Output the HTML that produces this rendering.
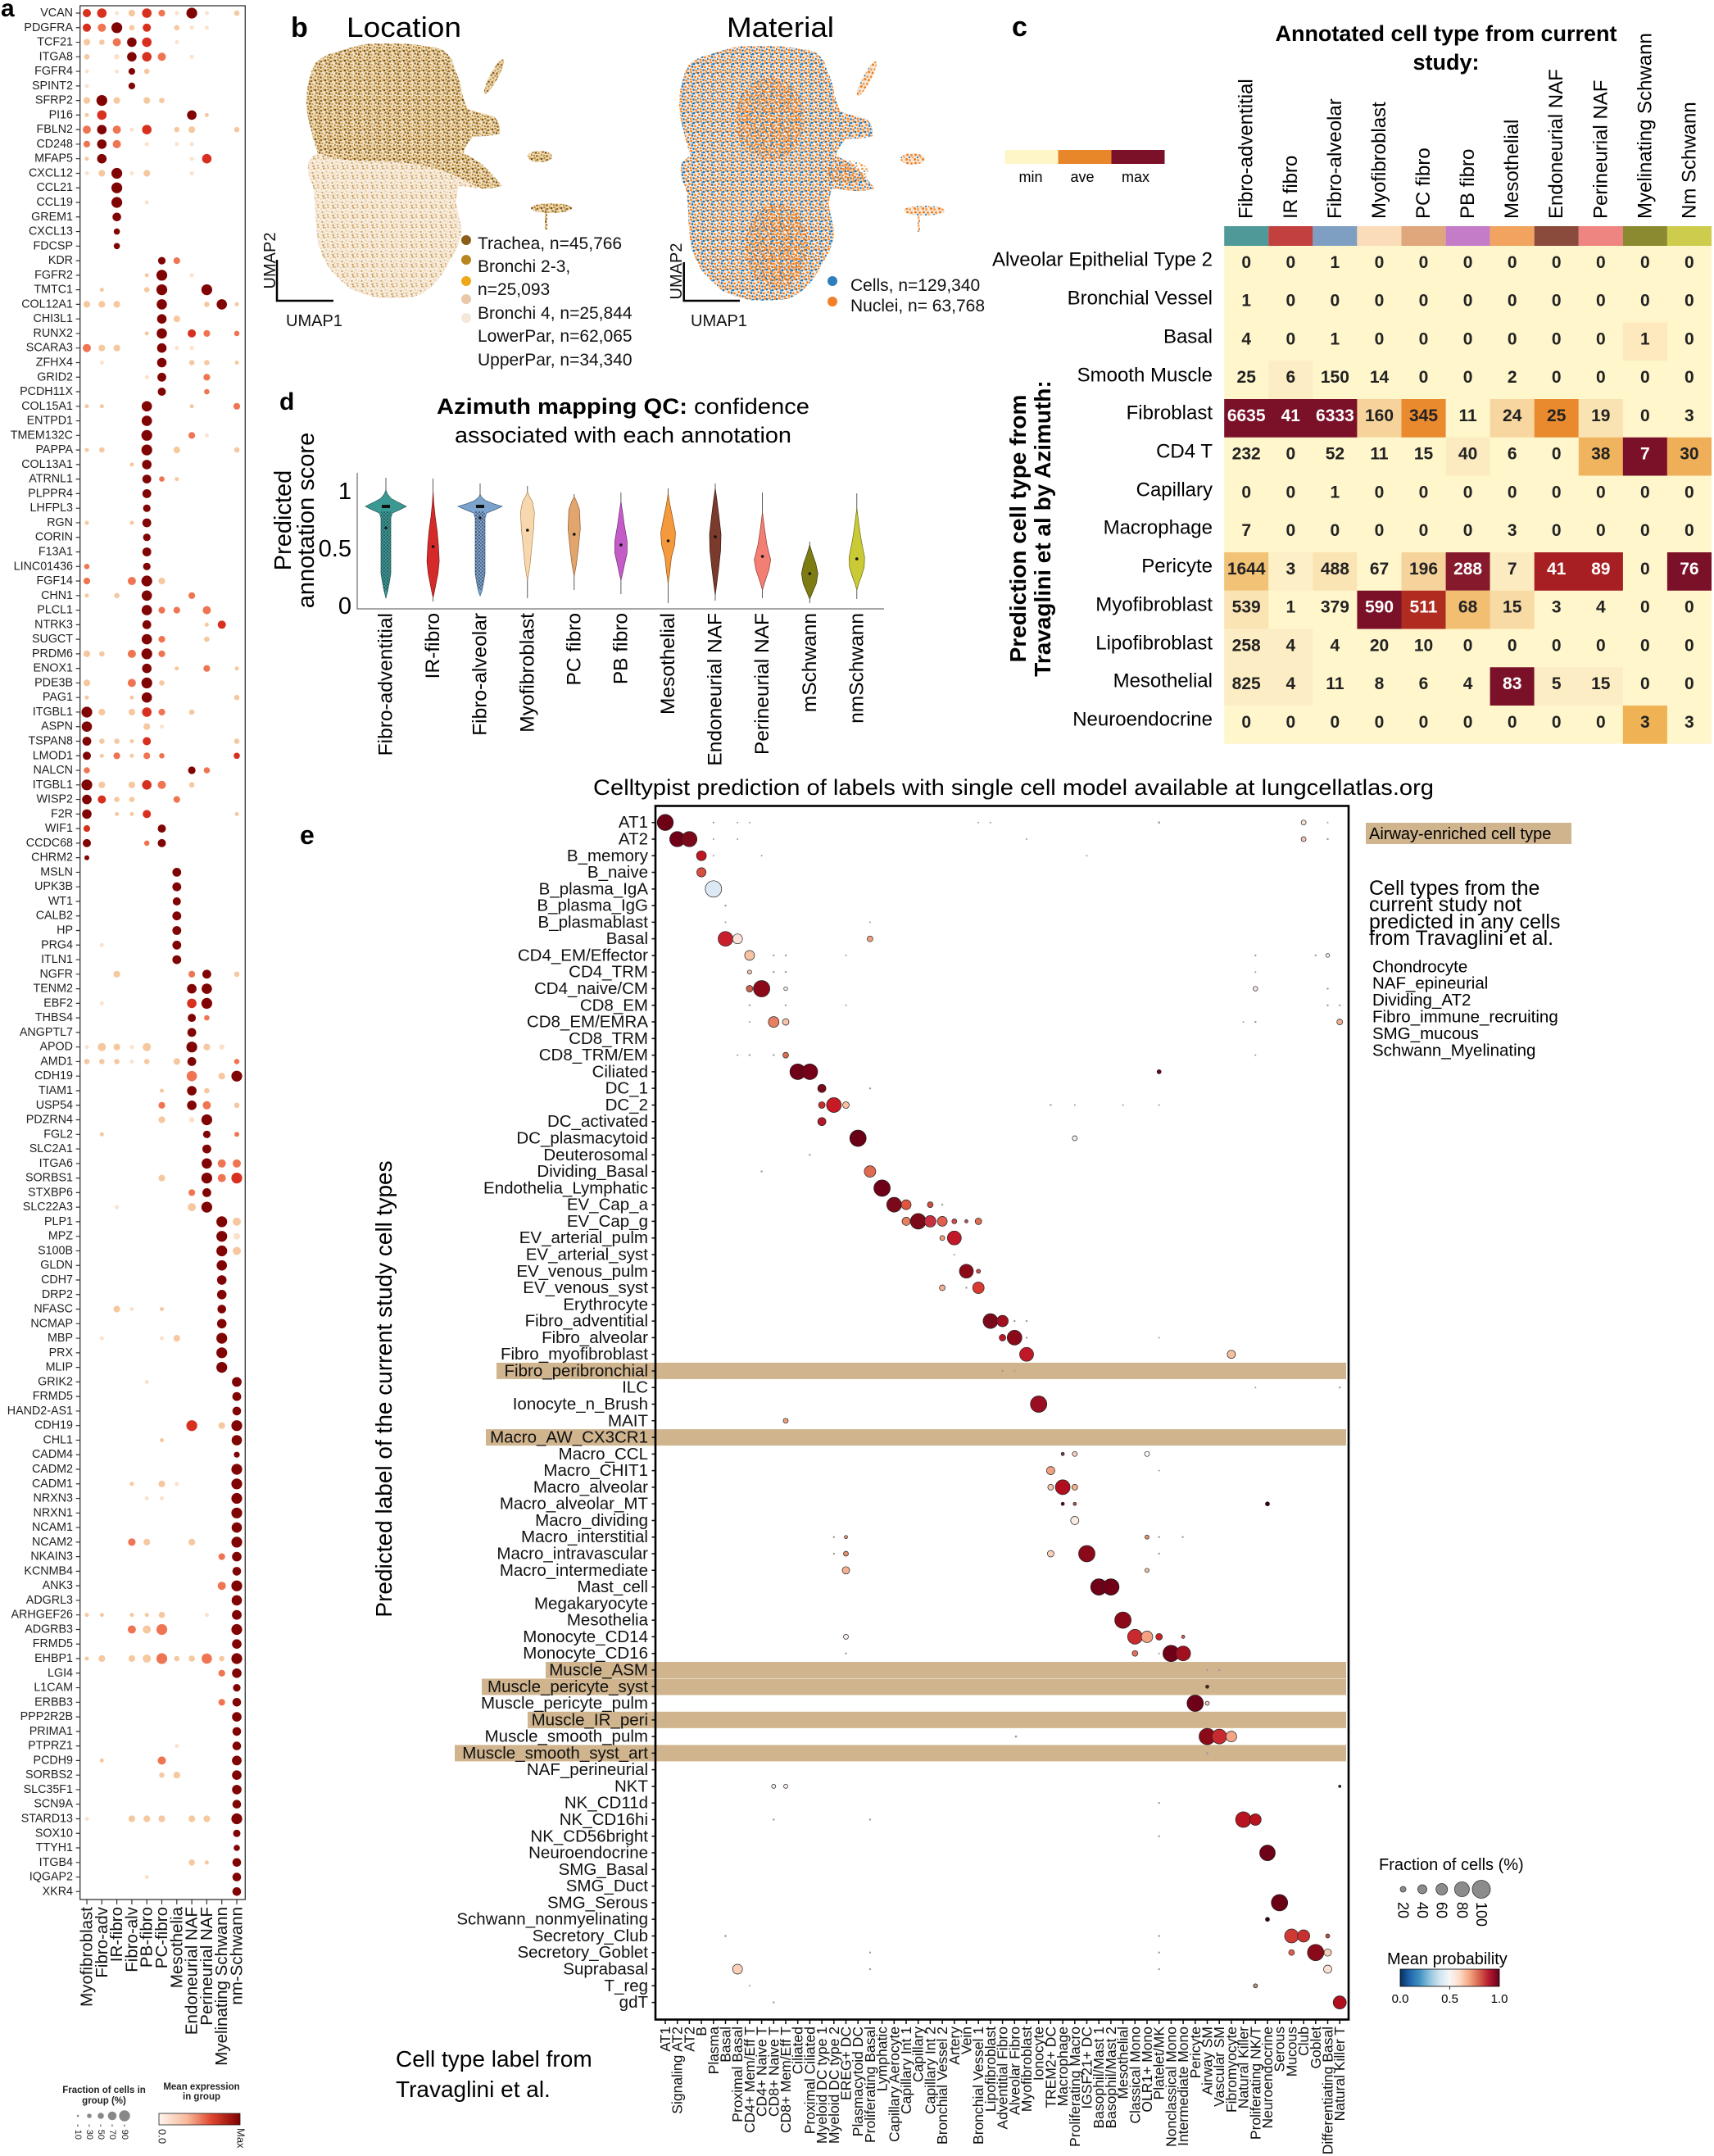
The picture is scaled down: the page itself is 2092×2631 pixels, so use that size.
<!DOCTYPE html>
<html><head><meta charset="utf-8">
<style>
html,body{margin:0;padding:0;background:#fff;}
svg{display:block;font-family:"Liberation Sans",Arial,sans-serif;}
.e{fill:#800404}.d{fill:#d7301f}.c{fill:#ef7552}.b{fill:#f6c8a0}.a{fill:#fbe2cc}
.ed circle{stroke:#222;stroke-width:0.7}
.t circle{fill:#999}
</style></head><body>
<svg width="2092" height="2631" viewBox="0 0 2092 2631" xmlns="http://www.w3.org/2000/svg">
<defs>
<pattern id="pD" width="12" height="12" patternUnits="userSpaceOnUse">
<circle cx="1" cy="2" r="1.4" fill="#7a4e16"/><circle cx="4.5" cy="1" r="1.3" fill="#b8862a"/><circle cx="8" cy="3" r="1.4" fill="#9c6b22"/><circle cx="11" cy="1.5" r="1.2" fill="#c99a45"/><circle cx="2.5" cy="5.5" r="1.4" fill="#a8782a"/><circle cx="6" cy="6.5" r="1.4" fill="#8a5a1c"/><circle cx="9.5" cy="7" r="1.3" fill="#d0a050"/><circle cx="0.5" cy="9" r="1.3" fill="#b07d2a"/><circle cx="4" cy="10" r="1.3" fill="#c08a38"/><circle cx="7.5" cy="10.5" r="1.4" fill="#9a6820"/><circle cx="10.5" cy="11" r="1.2" fill="#e0b870"/><circle cx="6" cy="3.5" r="1.1" fill="#b89040"/>
</pattern>
<pattern id="pL" width="12" height="12" patternUnits="userSpaceOnUse">
<circle cx="1" cy="2" r="1.3" fill="#e6c79c"/><circle cx="4.5" cy="1" r="1.2" fill="#d8b07a"/><circle cx="8" cy="3" r="1.3" fill="#efd8b8"/><circle cx="11" cy="1.5" r="1.1" fill="#c9a060"/><circle cx="2.5" cy="5.5" r="1.3" fill="#e8cfa8"/><circle cx="6" cy="6.5" r="1.3" fill="#f0dcc0"/><circle cx="9.5" cy="7" r="1.2" fill="#d4a868"/><circle cx="0.5" cy="9" r="1.2" fill="#ecd2ac"/><circle cx="4" cy="10" r="1.3" fill="#ddb682"/><circle cx="7.5" cy="10.5" r="1.1" fill="#f3e2c8"/><circle cx="10.5" cy="11" r="1.2" fill="#c89a58"/>
</pattern>
<pattern id="pM" width="12" height="12" patternUnits="userSpaceOnUse">
<circle cx="1" cy="2" r="1.4" fill="#1f77b4"/><circle cx="4.5" cy="1" r="1.4" fill="#ff7f0e"/><circle cx="8" cy="3" r="1.4" fill="#1f77b4"/><circle cx="11" cy="1.5" r="1.3" fill="#ff7f0e"/><circle cx="2.5" cy="5.5" r="1.4" fill="#ff7f0e"/><circle cx="6" cy="6.5" r="1.4" fill="#1f77b4"/><circle cx="9.5" cy="7" r="1.4" fill="#ff7f0e"/><circle cx="0.5" cy="9" r="1.3" fill="#1f77b4"/><circle cx="4" cy="10" r="1.4" fill="#ff7f0e"/><circle cx="7.5" cy="10.5" r="1.3" fill="#1f77b4"/><circle cx="10.5" cy="11" r="1.3" fill="#ff7f0e"/><circle cx="6" cy="3.5" r="1.1" fill="#4a90c8"/>
</pattern>
<pattern id="pO" width="10" height="10" patternUnits="userSpaceOnUse">
<circle cx="1.5" cy="1.5" r="1.5" fill="#f07a18"/><circle cx="5.5" cy="2.5" r="1.4" fill="#f39a48"/><circle cx="2.5" cy="6" r="1.4" fill="#e8781c"/><circle cx="7.5" cy="6.5" r="1.4" fill="#f08228"/><circle cx="5" cy="9" r="1.1" fill="#2a7ab8"/><circle cx="9" cy="9.5" r="1.2" fill="#f5a050"/>
</pattern>
<pattern id="pK" width="4" height="4" patternUnits="userSpaceOnUse">
<circle cx="1" cy="1" r="0.8" fill="#112"/><circle cx="3" cy="3" r="0.7" fill="#223"/>
</pattern>
<linearGradient id="gR" x1="0" x2="1" y1="0" y2="0"><stop offset="0" stop-color="#fff5ee"/><stop offset="0.35" stop-color="#f7b99a"/><stop offset="0.65" stop-color="#e0452e"/><stop offset="1" stop-color="#7f0000"/></linearGradient>
<linearGradient id="gB" x1="0" x2="1" y1="0" y2="0"><stop offset="0" stop-color="#053061"/><stop offset="0.1" stop-color="#2166ac"/><stop offset="0.2" stop-color="#4393c3"/><stop offset="0.3" stop-color="#92c5de"/><stop offset="0.4" stop-color="#d1e5f0"/><stop offset="0.5" stop-color="#f7f7f7"/><stop offset="0.6" stop-color="#fddbc7"/><stop offset="0.7" stop-color="#f4a582"/><stop offset="0.8" stop-color="#d6604d"/><stop offset="0.9" stop-color="#b2182b"/><stop offset="1" stop-color="#67001f"/></linearGradient>
<path id="mainS" d="M384.9,76.7 C395,68 405,64 412.3,63.3 C430,57 445,53 456.2,53.3 C480,53 500,53 511,55 C525,57 535,58 541.2,61.7 C550,68 553,75 554.9,83.3 C560,95 562,103 563.1,110 C566,122 568,128 571.4,133.3 C585,138 598,140 604.3,143.3 C610,150 611,158 609.8,163.3 C598,167 585,166 576.8,166.7 C570,175 566,182 565.9,186.7 C575,192 582,196 587.8,200 C598,210 606,218 612.5,226.7 C603,230 595,230 587.8,230 C575,229 566,228 560.4,226.7 C557,238 556,245 557.6,253.3 C560,265 563,275 563.1,283.3 C560,300 555,310 549.4,316.7 C544,328 538,337 533,343.3 C522,355 513,360 505.5,361.7 C490,364 475,364 461.7,363.3 C447,360 437,357 428.7,353.3 C415,342 407,334 401.3,326.7 C393,312 389,302 387.6,293.3 C386,278 385,265 384.9,253.3 C384,242 383,233 382.1,226.7 C379,220 377,217 376.6,213.3 C376,205 376,200 376.6,196.7 C380,192 385,189 387.6,186.7 C384,175 381,165 379.4,156.7 C376,145 374,135 373.9,126.7 C374,115 375,107 376.6,100 C379,90 382,82 384.9,76.7 Z"/>
<path id="upS" d="M384.9,76.7 C395,68 405,64 412.3,63.3 C430,57 445,53 456.2,53.3 C480,53 500,53 511,55 C525,57 535,58 541.2,61.7 C550,68 553,75 554.9,83.3 C560,95 562,103 563.1,110 C566,122 568,128 571.4,133.3 C585,138 598,140 604.3,143.3 C610,150 611,158 609.8,163.3 C598,167 585,166 576.8,166.7 C570,175 566,182 565.9,186.7 C575,192 582,196 587.8,200 C598,210 606,218 612.5,226.7 C603,230 595,230 587.8,230 C575,225 560,215 545,210 C520,200 480,196 450,197 C420,196 400,192 387.6,186.7 C384,175 381,165 379.4,156.7 C376,145 374,135 373.9,126.7 C374,115 375,107 376.6,100 C379,90 382,82 384.9,76.7 Z"/>
<g id="clus">
<ellipse cx="603" cy="93" rx="24" ry="5" transform="rotate(-62 603 93)"/>
<ellipse cx="659" cy="191" rx="15" ry="7"/>
<ellipse cx="673" cy="254" rx="25" ry="6"/>
<rect x="665" y="258" width="3" height="22"/>
</g>
</defs>
<rect width="2092" height="2631" fill="#fff"/>

<!-- ============ PANEL A ============ -->
<text x="1" y="20" font-size="30" font-weight="bold">a</text>
<rect x="97.7" y="7" width="201.6" height="2311" fill="none" stroke="#333" stroke-width="1.3"/>
<line x1="95.2" y1="15.4" x2="95.2" y2="2310" stroke="#333" stroke-width="5" stroke-dasharray="1.2 16.57"/>
<line x1="105.4" y1="2321" x2="292" y2="2321" stroke="#333" stroke-width="6" stroke-dasharray="1.2 17.1"/>
<g font-size="14.3" text-anchor="end" dominant-baseline="central" fill="#222">
<text x="89" y="16">VCAN</text><text x="89" y="33.8">PDGFRA</text><text x="89" y="51.5">TCF21</text><text x="89" y="69.3">ITGA8</text><text x="89" y="87.1">FGFR4</text><text x="89" y="104.9">SPINT2</text><text x="89" y="122.6">SFRP2</text><text x="89" y="140.4">PI16</text><text x="89" y="158.2">FBLN2</text><text x="89" y="175.9">CD248</text><text x="89" y="193.7">MFAP5</text><text x="89" y="211.5">CXCL12</text><text x="89" y="229.2">CCL21</text><text x="89" y="247">CCL19</text><text x="89" y="264.8">GREM1</text><text x="89" y="282.6">CXCL13</text><text x="89" y="300.3">FDCSP</text><text x="89" y="318.1">KDR</text><text x="89" y="335.9">FGFR2</text><text x="89" y="353.6">TMTC1</text><text x="89" y="371.4">COL12A1</text><text x="89" y="389.2">CHI3L1</text><text x="89" y="406.9">RUNX2</text><text x="89" y="424.7">SCARA3</text><text x="89" y="442.5">ZFHX4</text><text x="89" y="460.3">GRID2</text><text x="89" y="478">PCDH11X</text><text x="89" y="495.8">COL15A1</text><text x="89" y="513.6">ENTPD1</text><text x="89" y="531.3">TMEM132C</text><text x="89" y="549.1">PAPPA</text><text x="89" y="566.9">COL13A1</text><text x="89" y="584.6">ATRNL1</text><text x="89" y="602.4">PLPPR4</text><text x="89" y="620.2">LHFPL3</text><text x="89" y="638">RGN</text><text x="89" y="655.7">CORIN</text><text x="89" y="673.5">F13A1</text><text x="89" y="691.3">LINC01436</text><text x="89" y="709">FGF14</text><text x="89" y="726.8">CHN1</text><text x="89" y="744.6">PLCL1</text><text x="89" y="762.3">NTRK3</text><text x="89" y="780.1">SUGCT</text><text x="89" y="797.9">PRDM6</text><text x="89" y="815.7">ENOX1</text><text x="89" y="833.4">PDE3B</text><text x="89" y="851.2">PAG1</text><text x="89" y="869">ITGBL1</text><text x="89" y="886.7">ASPN</text><text x="89" y="904.5">TSPAN8</text><text x="89" y="922.3">LMOD1</text><text x="89" y="940">NALCN</text><text x="89" y="957.8">ITGBL1</text><text x="89" y="975.6">WISP2</text><text x="89" y="993.4">F2R</text><text x="89" y="1011.1">WIF1</text><text x="89" y="1028.9">CCDC68</text><text x="89" y="1046.7">CHRM2</text><text x="89" y="1064.4">MSLN</text><text x="89" y="1082.2">UPK3B</text><text x="89" y="1100">WT1</text><text x="89" y="1117.7">CALB2</text><text x="89" y="1135.5">HP</text><text x="89" y="1153.3">PRG4</text><text x="89" y="1171.1">ITLN1</text><text x="89" y="1188.8">NGFR</text><text x="89" y="1206.6">TENM2</text><text x="89" y="1224.4">EBF2</text><text x="89" y="1242.1">THBS4</text><text x="89" y="1259.9">ANGPTL7</text><text x="89" y="1277.7">APOD</text><text x="89" y="1295.4">AMD1</text><text x="89" y="1313.2">CDH19</text><text x="89" y="1331">TIAM1</text><text x="89" y="1348.8">USP54</text><text x="89" y="1366.5">PDZRN4</text><text x="89" y="1384.3">FGL2</text><text x="89" y="1402.1">SLC2A1</text><text x="89" y="1419.8">ITGA6</text><text x="89" y="1437.6">SORBS1</text><text x="89" y="1455.4">STXBP6</text><text x="89" y="1473.1">SLC22A3</text><text x="89" y="1490.9">PLP1</text><text x="89" y="1508.7">MPZ</text><text x="89" y="1526.5">S100B</text><text x="89" y="1544.2">GLDN</text><text x="89" y="1562">CDH7</text><text x="89" y="1579.8">DRP2</text><text x="89" y="1597.5">NFASC</text><text x="89" y="1615.3">NCMAP</text><text x="89" y="1633.1">MBP</text><text x="89" y="1650.8">PRX</text><text x="89" y="1668.6">MLIP</text><text x="89" y="1686.4">GRIK2</text><text x="89" y="1704.2">FRMD5</text><text x="89" y="1721.9">HAND2-AS1</text><text x="89" y="1739.7">CDH19</text><text x="89" y="1757.5">CHL1</text><text x="89" y="1775.2">CADM4</text><text x="89" y="1793">CADM2</text><text x="89" y="1810.8">CADM1</text><text x="89" y="1828.5">NRXN3</text><text x="89" y="1846.3">NRXN1</text><text x="89" y="1864.1">NCAM1</text><text x="89" y="1881.9">NCAM2</text><text x="89" y="1899.6">NKAIN3</text><text x="89" y="1917.4">KCNMB4</text><text x="89" y="1935.2">ANK3</text><text x="89" y="1952.9">ADGRL3</text><text x="89" y="1970.7">ARHGEF26</text><text x="89" y="1988.5">ADGRB3</text><text x="89" y="2006.2">FRMD5</text><text x="89" y="2024">EHBP1</text><text x="89" y="2041.8">LGI4</text><text x="89" y="2059.6">L1CAM</text><text x="89" y="2077.3">ERBB3</text><text x="89" y="2095.1">PPP2R2B</text><text x="89" y="2112.9">PRIMA1</text><text x="89" y="2130.6">PTPRZ1</text><text x="89" y="2148.4">PCDH9</text><text x="89" y="2166.2">SORBS2</text><text x="89" y="2183.9">SLC35F1</text><text x="89" y="2201.7">SCN9A</text><text x="89" y="2219.5">STARD13</text><text x="89" y="2237.3">SOX10</text><text x="89" y="2255">TTYH1</text><text x="89" y="2272.8">ITGB4</text><text x="89" y="2290.6">IQGAP2</text><text x="89" y="2308.3">XKR4</text>
</g>
<g>
<g transform="translate(0,16)"><circle class="d" cx="106" r="5"/><circle class="d" cx="124.3" r="5.8"/><circle class="a" cx="142.6" r="2.5"/><circle class="b" cx="160.9" r="4.1"/><circle class="d" cx="179.2" r="5.8"/><circle class="c" cx="197.5" r="4.1"/><circle class="a" cx="215.8" r="2.5"/><circle class="e" cx="234.1" r="6.6"/><circle class="a" cx="252.4" r="2.5"/><circle class="b" cx="289" r="3.3"/></g>
<g transform="translate(0,33.8)"><circle class="d" cx="106" r="5"/><circle class="c" cx="124.3" r="5"/><circle class="e" cx="142.6" r="6.6"/><circle class="b" cx="160.9" r="3.3"/><circle class="d" cx="179.2" r="5"/><circle class="b" cx="215.8" r="3.3"/><circle class="a" cx="234.1" r="2.5"/><circle class="a" cx="252.4" r="2.5"/></g>
<g transform="translate(0,51.5)"><circle class="b" cx="106" r="4.1"/><circle class="b" cx="124.3" r="3.3"/><circle class="c" cx="142.6" r="5"/><circle class="e" cx="160.9" r="5.8"/><circle class="d" cx="179.2" r="5.8"/><circle class="a" cx="215.8" r="2.5"/></g>
<g transform="translate(0,69.3)"><circle class="b" cx="106" r="3.3"/><circle class="a" cx="142.6" r="3.3"/><circle class="e" cx="160.9" r="5.8"/><circle class="d" cx="179.2" r="5.8"/><circle class="c" cx="197.5" r="5"/><circle class="a" cx="234.1" r="2.5"/></g>
<g transform="translate(0,87.1)"><circle class="e" cx="160.9" r="4.1"/><circle class="b" cx="179.2" r="3.3"/><circle class="a" cx="106" r="2.5"/><circle class="a" cx="142.6" r="2.5"/></g>
<g transform="translate(0,104.9)"><circle class="e" cx="160.9" r="4.1"/><circle class="a" cx="106" r="2.5"/></g>
<g transform="translate(0,122.6)"><circle class="b" cx="106" r="4.1"/><circle class="e" cx="124.3" r="6.6"/><circle class="b" cx="142.6" r="4.1"/><circle class="b" cx="179.2" r="4.1"/><circle class="b" cx="197.5" r="3.3"/></g>
<g transform="translate(0,140.4)"><circle class="b" cx="106" r="2.5"/><circle class="d" cx="124.3" r="5.8"/><circle class="e" cx="234.1" r="5.8"/><circle class="b" cx="252.4" r="2.5"/></g>
<g transform="translate(0,158.2)"><circle class="c" cx="106" r="5"/><circle class="e" cx="124.3" r="5.8"/><circle class="c" cx="142.6" r="5"/><circle class="a" cx="160.9" r="2.5"/><circle class="d" cx="179.2" r="5.8"/><circle class="b" cx="215.8" r="3.3"/><circle class="b" cx="234.1" r="4.1"/><circle class="b" cx="289" r="3.3"/></g>
<g transform="translate(0,175.9)"><circle class="c" cx="106" r="4.1"/><circle class="e" cx="124.3" r="5.8"/><circle class="c" cx="142.6" r="5"/><circle class="a" cx="179.2" r="2.5"/><circle class="a" cx="215.8" r="2.5"/><circle class="a" cx="234.1" r="2.5"/></g>
<g transform="translate(0,193.7)"><circle class="b" cx="106" r="2.5"/><circle class="e" cx="124.3" r="5.8"/><circle class="d" cx="252.4" r="5.8"/><circle class="a" cx="234.1" r="2.5"/></g>
<g transform="translate(0,211.5)"><circle class="b" cx="124.3" r="4.1"/><circle class="e" cx="142.6" r="6.6"/><circle class="a" cx="160.9" r="2.5"/><circle class="b" cx="179.2" r="4.1"/><circle class="a" cx="106" r="2.5"/><circle class="a" cx="234.1" r="2.5"/></g>
<g transform="translate(0,229.2)"><circle class="e" cx="142.6" r="6.6"/></g>
<g transform="translate(0,247)"><circle class="e" cx="142.6" r="6.6"/><circle class="a" cx="179.2" r="2.5"/></g>
<g transform="translate(0,264.8)"><circle class="e" cx="142.6" r="5.3"/></g>
<g transform="translate(0,282.6)"><circle class="e" cx="142.6" r="3.8"/></g>
<g transform="translate(0,300.3)"><circle class="e" cx="142.6" r="3.8"/></g>
<g transform="translate(0,318.1)"><circle class="e" cx="197.5" r="4.6"/><circle class="c" cx="215.8" r="4.1"/></g>
<g transform="translate(0,335.9)"><circle class="e" cx="197.5" r="6.6"/><circle class="b" cx="179.2" r="2.5"/><circle class="a" cx="234.1" r="2.5"/></g>
<g transform="translate(0,353.6)"><circle class="e" cx="197.5" r="6.6"/><circle class="b" cx="124.3" r="2.5"/><circle class="b" cx="179.2" r="3.3"/><circle class="e" cx="252.4" r="6.6"/></g>
<g transform="translate(0,371.4)"><circle class="b" cx="106" r="4.1"/><circle class="b" cx="124.3" r="4.1"/><circle class="b" cx="142.6" r="4.1"/><circle class="e" cx="197.5" r="6.3"/><circle class="b" cx="252.4" r="3.3"/><circle class="e" cx="270.7" r="6.3"/><circle class="b" cx="289" r="2.5"/></g>
<g transform="translate(0,389.2)"><circle class="e" cx="197.5" r="5.8"/><circle class="b" cx="215.8" r="4.1"/></g>
<g transform="translate(0,406.9)"><circle class="e" cx="197.5" r="6.3"/><circle class="b" cx="179.2" r="2.5"/><circle class="d" cx="234.1" r="5"/><circle class="c" cx="252.4" r="4.1"/><circle class="c" cx="289" r="3.3"/></g>
<g transform="translate(0,424.7)"><circle class="c" cx="106" r="5"/><circle class="b" cx="124.3" r="4.1"/><circle class="b" cx="142.6" r="4.1"/><circle class="e" cx="197.5" r="5.8"/><circle class="a" cx="215.8" r="2.5"/><circle class="a" cx="234.1" r="2.5"/></g>
<g transform="translate(0,442.5)"><circle class="e" cx="197.5" r="5.8"/><circle class="b" cx="234.1" r="3.3"/><circle class="b" cx="252.4" r="3.3"/><circle class="b" cx="289" r="2.5"/><circle class="a" cx="124.3" r="2.5"/></g>
<g transform="translate(0,460.3)"><circle class="e" cx="197.5" r="5.4"/><circle class="a" cx="179.2" r="2.5"/><circle class="c" cx="252.4" r="4.1"/></g>
<g transform="translate(0,478)"><circle class="e" cx="197.5" r="5"/><circle class="c" cx="252.4" r="3.3"/></g>
<g transform="translate(0,495.8)"><circle class="e" cx="179.2" r="6.3"/><circle class="b" cx="106" r="2.5"/><circle class="b" cx="124.3" r="2.5"/><circle class="b" cx="234.1" r="2.5"/><circle class="c" cx="289" r="4.1"/></g>
<g transform="translate(0,513.6)"><circle class="e" cx="179.2" r="6.3"/></g>
<g transform="translate(0,531.3)"><circle class="e" cx="179.2" r="6.6"/><circle class="c" cx="234.1" r="4.1"/><circle class="a" cx="252.4" r="2.5"/></g>
<g transform="translate(0,549.1)"><circle class="e" cx="179.2" r="6.6"/><circle class="b" cx="106" r="2.5"/><circle class="b" cx="124.3" r="3.3"/><circle class="b" cx="215.8" r="4.1"/><circle class="b" cx="289" r="3.3"/></g>
<g transform="translate(0,566.9)"><circle class="e" cx="179.2" r="5.8"/><circle class="b" cx="160.9" r="2.5"/></g>
<g transform="translate(0,584.6)"><circle class="e" cx="179.2" r="5.4"/><circle class="c" cx="197.5" r="3.3"/><circle class="b" cx="215.8" r="2.5"/></g>
<g transform="translate(0,602.4)"><circle class="e" cx="179.2" r="5.4"/></g>
<g transform="translate(0,620.2)"><circle class="e" cx="179.2" r="4.6"/></g>
<g transform="translate(0,638)"><circle class="e" cx="179.2" r="5.4"/><circle class="b" cx="106" r="2.5"/><circle class="b" cx="160.9" r="2.5"/></g>
<g transform="translate(0,655.7)"><circle class="e" cx="179.2" r="4.6"/></g>
<g transform="translate(0,673.5)"><circle class="e" cx="179.2" r="5.4"/></g>
<g transform="translate(0,691.3)"><circle class="e" cx="179.2" r="4.6"/><circle class="c" cx="106" r="3.3"/></g>
<g transform="translate(0,709)"><circle class="e" cx="179.2" r="6.6"/><circle class="c" cx="106" r="4.1"/><circle class="c" cx="160.9" r="5"/><circle class="b" cx="197.5" r="4.1"/></g>
<g transform="translate(0,726.8)"><circle class="e" cx="179.2" r="6.3"/><circle class="b" cx="106" r="2.5"/><circle class="b" cx="142.6" r="3.3"/><circle class="c" cx="234.1" r="4.1"/></g>
<g transform="translate(0,744.6)"><circle class="e" cx="179.2" r="6.3"/><circle class="c" cx="197.5" r="4.1"/><circle class="c" cx="215.8" r="4.1"/><circle class="c" cx="252.4" r="5"/></g>
<g transform="translate(0,762.3)"><circle class="e" cx="179.2" r="5.4"/><circle class="b" cx="252.4" r="2.5"/><circle class="d" cx="270.7" r="5"/></g>
<g transform="translate(0,780.1)"><circle class="e" cx="179.2" r="6.3"/><circle class="c" cx="197.5" r="4.1"/><circle class="b" cx="252.4" r="3.3"/></g>
<g transform="translate(0,797.9)"><circle class="e" cx="179.2" r="6.6"/><circle class="b" cx="106" r="4.1"/><circle class="b" cx="124.3" r="3.3"/><circle class="c" cx="160.9" r="5"/><circle class="c" cx="197.5" r="4.1"/></g>
<g transform="translate(0,815.7)"><circle class="e" cx="179.2" r="5.8"/><circle class="b" cx="215.8" r="2.5"/><circle class="c" cx="252.4" r="4.1"/><circle class="b" cx="289" r="2.5"/></g>
<g transform="translate(0,833.4)"><circle class="e" cx="179.2" r="6.6"/><circle class="b" cx="106" r="4.1"/><circle class="c" cx="160.9" r="5"/><circle class="b" cx="197.5" r="3.3"/></g>
<g transform="translate(0,851.2)"><circle class="e" cx="179.2" r="6.3"/><circle class="b" cx="106" r="2.5"/><circle class="b" cx="160.9" r="2.5"/><circle class="b" cx="289" r="3.3"/></g>
<g transform="translate(0,869)"><circle class="e" cx="106" r="6.6"/><circle class="b" cx="124.3" r="4.1"/><circle class="b" cx="160.9" r="4.1"/><circle class="d" cx="179.2" r="5.8"/><circle class="c" cx="197.5" r="4.1"/><circle class="b" cx="234.1" r="3.3"/></g>
<g transform="translate(0,886.7)"><circle class="e" cx="106" r="6.3"/><circle class="b" cx="179.2" r="4.1"/><circle class="a" cx="197.5" r="2.5"/></g>
<g transform="translate(0,904.5)"><circle class="e" cx="106" r="5.4"/><circle class="b" cx="124.3" r="3.3"/><circle class="b" cx="142.6" r="3.3"/><circle class="b" cx="160.9" r="2.5"/><circle class="d" cx="179.2" r="5"/><circle class="b" cx="289" r="3.3"/></g>
<g transform="translate(0,922.3)"><circle class="e" cx="106" r="5"/><circle class="b" cx="124.3" r="2.5"/><circle class="c" cx="142.6" r="4.1"/><circle class="b" cx="160.9" r="2.5"/><circle class="c" cx="179.2" r="4.1"/><circle class="c" cx="197.5" r="3.3"/><circle class="d" cx="289" r="3.8"/></g>
<g transform="translate(0,940)"><circle class="c" cx="106" r="3.8"/><circle class="e" cx="234.1" r="4.6"/><circle class="c" cx="252.4" r="3.8"/></g>
<g transform="translate(0,957.8)"><circle class="e" cx="106" r="6.6"/><circle class="b" cx="124.3" r="4.1"/><circle class="b" cx="160.9" r="4.1"/><circle class="d" cx="179.2" r="5.8"/><circle class="c" cx="197.5" r="5"/><circle class="b" cx="234.1" r="3.3"/></g>
<g transform="translate(0,975.6)"><circle class="e" cx="106" r="5.8"/><circle class="d" cx="124.3" r="5"/><circle class="b" cx="142.6" r="3.3"/><circle class="b" cx="160.9" r="3.3"/><circle class="c" cx="215.8" r="4.1"/></g>
<g transform="translate(0,993.4)"><circle class="e" cx="106" r="5.8"/><circle class="b" cx="142.6" r="2.5"/><circle class="b" cx="160.9" r="2.5"/><circle class="d" cx="179.2" r="5"/><circle class="b" cx="289" r="2.5"/></g>
<g transform="translate(0,1011.1)"><circle class="d" cx="106" r="4.1"/><circle class="e" cx="197.5" r="5"/></g>
<g transform="translate(0,1028.9)"><circle class="e" cx="106" r="5"/><circle class="c" cx="179.2" r="3.3"/><circle class="e" cx="197.5" r="5"/></g>
<g transform="translate(0,1046.7)"><circle class="e" cx="106" r="3"/></g>
<g transform="translate(0,1064.4)"><circle class="e" cx="215.8" r="5.4"/></g>
<g transform="translate(0,1082.2)"><circle class="e" cx="215.8" r="5.4"/></g>
<g transform="translate(0,1100)"><circle class="e" cx="215.8" r="5"/></g>
<g transform="translate(0,1117.7)"><circle class="e" cx="215.8" r="5.4"/></g>
<g transform="translate(0,1135.5)"><circle class="e" cx="215.8" r="5.4"/></g>
<g transform="translate(0,1153.3)"><circle class="e" cx="215.8" r="5.4"/><circle class="a" cx="124.3" r="2.5"/></g>
<g transform="translate(0,1171.1)"><circle class="e" cx="215.8" r="5.4"/></g>
<g transform="translate(0,1188.8)"><circle class="e" cx="252.4" r="5.4"/><circle class="c" cx="234.1" r="4.1"/><circle class="b" cx="142.6" r="4.1"/><circle class="b" cx="289" r="3.3"/></g>
<g transform="translate(0,1206.6)"><circle class="e" cx="234.1" r="5.8"/><circle class="e" cx="252.4" r="6.3"/></g>
<g transform="translate(0,1224.4)"><circle class="d" cx="234.1" r="5.8"/><circle class="e" cx="252.4" r="6.6"/><circle class="a" cx="124.3" r="2.5"/></g>
<g transform="translate(0,1242.1)"><circle class="e" cx="234.1" r="5"/><circle class="c" cx="252.4" r="3.3"/></g>
<g transform="translate(0,1259.9)"><circle class="e" cx="234.1" r="5.4"/></g>
<g transform="translate(0,1277.7)"><circle class="e" cx="234.1" r="6.6"/><circle class="b" cx="124.3" r="5"/><circle class="b" cx="142.6" r="4.1"/><circle class="b" cx="179.2" r="5"/><circle class="b" cx="252.4" r="4.1"/><circle class="a" cx="270.7" r="3.3"/><circle class="a" cx="106" r="2.5"/><circle class="a" cx="160.9" r="2.5"/></g>
<g transform="translate(0,1295.4)"><circle class="e" cx="234.1" r="5.4"/><circle class="b" cx="106" r="3.3"/><circle class="b" cx="124.3" r="3.3"/><circle class="b" cx="142.6" r="3.3"/><circle class="a" cx="160.9" r="2.5"/><circle class="b" cx="179.2" r="3.3"/><circle class="b" cx="215.8" r="4.1"/><circle class="c" cx="289" r="3.3"/></g>
<g transform="translate(0,1313.2)"><circle class="c" cx="234.1" r="6.3"/><circle class="b" cx="270.7" r="4.1"/><circle class="e" cx="289" r="6.6"/></g>
<g transform="translate(0,1331)"><circle class="e" cx="234.1" r="5.8"/><circle class="b" cx="252.4" r="3.3"/><circle class="b" cx="197.5" r="2.5"/></g>
<g transform="translate(0,1348.8)"><circle class="e" cx="234.1" r="5.8"/><circle class="c" cx="252.4" r="5"/><circle class="c" cx="197.5" r="4.1"/><circle class="b" cx="289" r="3.3"/></g>
<g transform="translate(0,1366.5)"><circle class="e" cx="252.4" r="6.6"/><circle class="b" cx="197.5" r="4.1"/><circle class="a" cx="234.1" r="3.3"/></g>
<g transform="translate(0,1384.3)"><circle class="e" cx="252.4" r="4.6"/><circle class="c" cx="289" r="3"/><circle class="b" cx="124.3" r="2.5"/></g>
<g transform="translate(0,1402.1)"><circle class="e" cx="252.4" r="5.4"/></g>
<g transform="translate(0,1419.8)"><circle class="e" cx="252.4" r="6.3"/><circle class="c" cx="270.7" r="5"/><circle class="c" cx="289" r="5"/></g>
<g transform="translate(0,1437.6)"><circle class="e" cx="252.4" r="6.6"/><circle class="c" cx="270.7" r="5"/><circle class="d" cx="289" r="6.6"/><circle class="b" cx="197.5" r="4.1"/></g>
<g transform="translate(0,1455.4)"><circle class="e" cx="252.4" r="5.4"/><circle class="c" cx="234.1" r="4.1"/></g>
<g transform="translate(0,1473.1)"><circle class="e" cx="252.4" r="6.6"/><circle class="b" cx="234.1" r="5"/><circle class="a" cx="142.6" r="2.5"/></g>
<g transform="translate(0,1490.9)"><circle class="e" cx="270.7" r="6.6"/><circle class="b" cx="289" r="5"/></g>
<g transform="translate(0,1508.7)"><circle class="e" cx="270.7" r="6.6"/><circle class="a" cx="289" r="4.1"/></g>
<g transform="translate(0,1526.5)"><circle class="e" cx="270.7" r="6.6"/><circle class="b" cx="289" r="5"/></g>
<g transform="translate(0,1544.2)"><circle class="e" cx="270.7" r="6.3"/></g>
<g transform="translate(0,1562)"><circle class="e" cx="270.7" r="5.8"/></g>
<g transform="translate(0,1579.8)"><circle class="e" cx="270.7" r="5.8"/></g>
<g transform="translate(0,1597.5)"><circle class="e" cx="270.7" r="5.3"/><circle class="b" cx="142.6" r="4.1"/><circle class="a" cx="160.9" r="2.5"/><circle class="b" cx="197.5" r="2.5"/></g>
<g transform="translate(0,1615.3)"><circle class="e" cx="270.7" r="5.8"/></g>
<g transform="translate(0,1633.1)"><circle class="e" cx="270.7" r="6.6"/><circle class="b" cx="215.8" r="4.1"/><circle class="a" cx="124.3" r="2.5"/><circle class="a" cx="197.5" r="2.5"/></g>
<g transform="translate(0,1650.8)"><circle class="e" cx="270.7" r="6.6"/></g>
<g transform="translate(0,1668.6)"><circle class="e" cx="270.7" r="6.6"/></g>
<g transform="translate(0,1686.4)"><circle class="e" cx="289" r="5.9"/><circle class="a" cx="179.2" r="2.5"/></g>
<g transform="translate(0,1704.2)"><circle class="e" cx="289" r="5.4"/></g>
<g transform="translate(0,1721.9)"><circle class="e" cx="289" r="5.3"/></g>
<g transform="translate(0,1739.7)"><circle class="d" cx="234.1" r="6.6"/><circle class="b" cx="270.7" r="4.1"/><circle class="e" cx="289" r="6.6"/></g>
<g transform="translate(0,1757.5)"><circle class="e" cx="289" r="6.3"/><circle class="b" cx="197.5" r="2.5"/></g>
<g transform="translate(0,1775.2)"><circle class="e" cx="289" r="3.6"/></g>
<g transform="translate(0,1793)"><circle class="e" cx="289" r="6.6"/></g>
<g transform="translate(0,1810.8)"><circle class="e" cx="289" r="6.6"/><circle class="b" cx="160.9" r="2.5"/><circle class="b" cx="197.5" r="4.1"/><circle class="a" cx="215.8" r="2.5"/></g>
<g transform="translate(0,1828.5)"><circle class="e" cx="289" r="6.6"/><circle class="a" cx="197.5" r="2.5"/><circle class="a" cx="179.2" r="2.5"/></g>
<g transform="translate(0,1846.3)"><circle class="e" cx="289" r="6.6"/></g>
<g transform="translate(0,1864.1)"><circle class="e" cx="289" r="6.3"/></g>
<g transform="translate(0,1881.9)"><circle class="e" cx="289" r="6.6"/><circle class="c" cx="160.9" r="4.6"/><circle class="b" cx="179.2" r="4.1"/><circle class="b" cx="234.1" r="4.1"/></g>
<g transform="translate(0,1899.6)"><circle class="e" cx="289" r="5.8"/><circle class="c" cx="270.7" r="4.1"/></g>
<g transform="translate(0,1917.4)"><circle class="e" cx="289" r="5.3"/></g>
<g transform="translate(0,1935.2)"><circle class="e" cx="289" r="6.6"/><circle class="c" cx="270.7" r="5"/></g>
<g transform="translate(0,1952.9)"><circle class="e" cx="289" r="6.3"/></g>
<g transform="translate(0,1970.7)"><circle class="e" cx="289" r="5.9"/><circle class="b" cx="106" r="2.5"/><circle class="b" cx="124.3" r="2.5"/><circle class="b" cx="160.9" r="2.5"/><circle class="b" cx="179.2" r="2.5"/><circle class="b" cx="197.5" r="3.8"/><circle class="a" cx="252.4" r="2.5"/></g>
<g transform="translate(0,1988.5)"><circle class="e" cx="289" r="6.6"/><circle class="c" cx="160.9" r="5"/><circle class="b" cx="179.2" r="5"/><circle class="c" cx="197.5" r="6.6"/></g>
<g transform="translate(0,2006.2)"><circle class="e" cx="289" r="5.8"/></g>
<g transform="translate(0,2024)"><circle class="e" cx="289" r="6.6"/><circle class="b" cx="106" r="2.5"/><circle class="b" cx="124.3" r="4.1"/><circle class="b" cx="160.9" r="4.1"/><circle class="b" cx="179.2" r="5"/><circle class="c" cx="197.5" r="6.6"/><circle class="b" cx="215.8" r="3.3"/><circle class="b" cx="234.1" r="3.8"/><circle class="c" cx="252.4" r="6.3"/><circle class="b" cx="270.7" r="3.3"/></g>
<g transform="translate(0,2041.8)"><circle class="e" cx="289" r="5.8"/><circle class="c" cx="270.7" r="4.1"/></g>
<g transform="translate(0,2059.6)"><circle class="e" cx="289" r="4.6"/></g>
<g transform="translate(0,2077.3)"><circle class="e" cx="289" r="5.3"/><circle class="c" cx="270.7" r="4.1"/></g>
<g transform="translate(0,2095.1)"><circle class="e" cx="289" r="5.8"/></g>
<g transform="translate(0,2112.9)"><circle class="e" cx="289" r="5.3"/></g>
<g transform="translate(0,2130.6)"><circle class="e" cx="289" r="5.3"/><circle class="a" cx="215.8" r="2.5"/></g>
<g transform="translate(0,2148.4)"><circle class="e" cx="289" r="5.9"/><circle class="c" cx="197.5" r="5"/><circle class="b" cx="124.3" r="2.5"/></g>
<g transform="translate(0,2166.2)"><circle class="e" cx="289" r="5.8"/><circle class="b" cx="197.5" r="3.3"/><circle class="b" cx="215.8" r="4.1"/></g>
<g transform="translate(0,2183.9)"><circle class="e" cx="289" r="5.8"/></g>
<g transform="translate(0,2201.7)"><circle class="e" cx="289" r="5.3"/></g>
<g transform="translate(0,2219.5)"><circle class="e" cx="289" r="6.6"/><circle class="b" cx="160.9" r="4.1"/><circle class="b" cx="179.2" r="4.1"/><circle class="b" cx="197.5" r="4.1"/><circle class="b" cx="234.1" r="4.1"/><circle class="b" cx="252.4" r="4.1"/><circle class="a" cx="106" r="2.5"/></g>
<g transform="translate(0,2237.3)"><circle class="e" cx="289" r="4.5"/></g>
<g transform="translate(0,2255)"><circle class="e" cx="289" r="3.8"/></g>
<g transform="translate(0,2272.8)"><circle class="e" cx="289" r="5.3"/><circle class="b" cx="234.1" r="3.8"/><circle class="b" cx="252.4" r="2.5"/></g>
<g transform="translate(0,2290.6)"><circle class="e" cx="289" r="5.3"/><circle class="a" cx="179.2" r="2.5"/></g>
<g transform="translate(0,2308.3)"><circle class="e" cx="289" r="5.3"/></g>
</g>
<g font-size="20.5" text-anchor="end" dominant-baseline="central" fill="#111">
<text transform="translate(106,2327) rotate(-90)">Myofibroblast</text>
<text transform="translate(124.3,2327) rotate(-90)">Fibro-adv</text>
<text transform="translate(142.6,2327) rotate(-90)">IR-fibro</text>
<text transform="translate(160.9,2327) rotate(-90)">Fibro-alv</text>
<text transform="translate(179.2,2327) rotate(-90)">PB-fibro</text>
<text transform="translate(197.5,2327) rotate(-90)">PC-fibro</text>
<text transform="translate(215.8,2327) rotate(-90)">Mesothelia</text>
<text transform="translate(234.1,2327) rotate(-90)">Endoneurial NAF</text>
<text transform="translate(252.4,2327) rotate(-90)">Perineurial NAF</text>
<text transform="translate(270.7,2327) rotate(-90)">Myelinating Schwann</text>
<text transform="translate(289,2327) rotate(-90)">nm-Schwann</text>
</g>
<!-- legend a -->
<g font-size="11.5" font-weight="bold" text-anchor="middle" fill="#222">
<text x="127" y="2554">Fraction of cells in</text><text x="127" y="2567">group (%)</text>
<text x="246" y="2550">Mean expression</text><text x="246" y="2562">in group</text>
</g>
<g fill="#888"><circle cx="95" cy="2582" r="1.3"/><circle cx="109" cy="2582" r="2.8"/><circle cx="123" cy="2582" r="3.8"/><circle cx="137" cy="2582" r="5.3"/><circle cx="152" cy="2582" r="6.7"/></g>
<g font-size="11" dominant-baseline="central" fill="#222">
<text transform="translate(95,2592) rotate(90)">- 10</text><text transform="translate(109,2592) rotate(90)">- 30</text><text transform="translate(123,2592) rotate(90)">- 50</text><text transform="translate(137,2592) rotate(90)">- 70</text><text transform="translate(152,2592) rotate(90)">- 90</text>
</g>
<rect x="194" y="2579" width="99" height="14" fill="url(#gR)" stroke="#222" stroke-width="0.8"/>
<g font-size="13" dominant-baseline="central" fill="#222">
<text transform="translate(198,2598) rotate(90)">0.0</text><text transform="translate(294,2597) rotate(90)">Max</text>
</g>

<!-- ============ PANEL B ============ -->
<text x="355" y="45" font-size="34" font-weight="bold">b</text>
<text x="423" y="45" font-size="34" textLength="140" lengthAdjust="spacingAndGlyphs">Location</text>
<text x="887" y="45" font-size="34" textLength="131" lengthAdjust="spacingAndGlyphs">Material</text>
<use href="#mainS" fill="#f8efe2"/>
<use href="#mainS" fill="url(#pL)"/>
<use href="#upS" fill="#efe2c6"/>
<use href="#upS" fill="url(#pD)"/>
<use href="#clus" fill="#efe0c0"/>
<use href="#clus" fill="url(#pD)"/>
<g transform="translate(455,3)">
<use href="#mainS" fill="#f6ede8"/>
<use href="#mainS" fill="url(#pM)"/>
<use href="#clus" fill="#f8e6d6"/>
<use href="#clus" fill="url(#pO)"/>
</g>
<ellipse cx="940" cy="145" rx="42" ry="50" fill="url(#pO)" opacity="0.85"/>
<ellipse cx="948" cy="300" rx="38" ry="52" fill="url(#pO)" opacity="0.9"/>
<ellipse cx="1035" cy="210" rx="25" ry="14" fill="url(#pO)" opacity="0.75"/>
<!-- axes b -->
<path d="M338,317 L338,367 L407,367" fill="none" stroke="#000" stroke-width="2.5"/>
<path d="M834.7,320 L834.7,367 L903,367" fill="none" stroke="#000" stroke-width="2.5"/>
<g font-size="20" fill="#111">
<text x="349" y="398">UMAP1</text><text x="843" y="398">UMAP1</text>
<text transform="translate(336,318) rotate(-90)" text-anchor="middle">UMAP2</text>
<text transform="translate(832,331) rotate(-90)" text-anchor="middle">UMAP2</text>
</g>
<circle cx="569" cy="293" r="6" fill="#8b5e1a"/><circle cx="569" cy="317" r="6" fill="#b8861e"/><circle cx="569" cy="343" r="6" fill="#f0a818"/><circle cx="569" cy="365" r="6" fill="#e8c8a8"/><circle cx="569" cy="388" r="6" fill="#f5e8da"/>
<g font-size="21" fill="#111">
<text x="583" y="304">Trachea, n=45,766</text><text x="583" y="332">Bronchi 2-3,</text><text x="583" y="360">n=25,093</text><text x="583" y="389">Bronchi 4, n=25,844</text><text x="583" y="417">LowerPar, n=62,065</text><text x="583" y="446">UpperPar, n=34,340</text>
<text x="1038" y="355">Cells, n=129,340</text><text x="1038" y="380">Nuclei, n= 63,768</text>
</g>
<circle cx="1016" cy="343" r="6" fill="#2e7ebb"/><circle cx="1016" cy="368" r="6" fill="#f0812a"/>

<!-- ============ PANEL C ============ -->
<text x="1235" y="44" font-size="34" font-weight="bold">c</text>
<g font-size="27" font-weight="bold" text-anchor="middle"><text x="1765" y="50">Annotated cell type from current</text><text x="1765" y="85">study:</text></g>
<rect x="1226.5" y="183" width="65" height="17" fill="#fff6c8"/><rect x="1291.5" y="183" width="65" height="17" fill="#e8862a"/><rect x="1356.5" y="183" width="65" height="17" fill="#7b1128"/>
<g font-size="18" text-anchor="middle"><text x="1258" y="222">min</text><text x="1321" y="222">ave</text><text x="1386" y="222">max</text></g>
<g font-size="24" dominant-baseline="central">
<text transform="translate(1521.2,267) rotate(-90)">Fibro-adventitial</text>
<text transform="translate(1575.3,267) rotate(-90)">IR fibro</text>
<text transform="translate(1629.4,267) rotate(-90)">Fibro-alveolar</text>
<text transform="translate(1683.5,267) rotate(-90)">Myofibroblast</text>
<text transform="translate(1737.5,267) rotate(-90)">PC fibro</text>
<text transform="translate(1791.6,267) rotate(-90)">PB fibro</text>
<text transform="translate(1845.7,267) rotate(-90)">Mesothelial</text>
<text transform="translate(1899.7,267) rotate(-90)">Endoneurial NAF</text>
<text transform="translate(1953.8,267) rotate(-90)">Perineurial NAF</text>
<text transform="translate(2007.9,267) rotate(-90)">Myelinating Schwann</text>
<text transform="translate(2061.9,267) rotate(-90)">Nm Schwann</text>
</g>
<rect x="1494.2" y="276" width="54.1" height="24" fill="#4f9a98"/><rect x="1548.3" y="276" width="54.1" height="24" fill="#c2413f"/><rect x="1602.3" y="276" width="54.1" height="24" fill="#7f9fc2"/><rect x="1656.4" y="276" width="54.1" height="24" fill="#fbdcb8"/><rect x="1710.5" y="276" width="54.1" height="24" fill="#e0a67c"/><rect x="1764.6" y="276" width="54.1" height="24" fill="#c47cc9"/><rect x="1818.6" y="276" width="54.1" height="24" fill="#f2a35f"/><rect x="1872.7" y="276" width="54.1" height="24" fill="#8a4a3c"/><rect x="1926.8" y="276" width="54.1" height="24" fill="#ef8580"/><rect x="1980.8" y="276" width="54.1" height="24" fill="#8c8a30"/><rect x="2034.9" y="276" width="54.1" height="24" fill="#cdcc4c"/>
<rect x="1494.2" y="300" width="594.8" height="607.75" fill="#fff6cc"/>
<g>
<rect x="1980.8" y="393.5" width="54.1" height="46.75" fill="#fde9bd"/>
<rect x="1548.3" y="440.25" width="54.1" height="46.75" fill="#fdedc4"/>
<rect x="1494.2" y="487" width="162.3" height="46.75" fill="#7a1129"/>
<rect x="1656.4" y="487" width="54.1" height="46.75" fill="#f7d39c"/>
<rect x="1710.5" y="487" width="54.1" height="46.75" fill="#e98a2f"/>
<rect x="1818.6" y="487" width="54.1" height="46.75" fill="#f7d6a0"/>
<rect x="1872.7" y="487" width="54.1" height="46.75" fill="#e98a2e"/>
<rect x="1926.8" y="487" width="54.1" height="46.75" fill="#fae3b3"/>
<rect x="1764.6" y="533.75" width="54.1" height="46.75" fill="#fceac0"/>
<rect x="1926.8" y="533.75" width="54.1" height="46.75" fill="#f0b45f"/>
<rect x="1980.8" y="533.75" width="54.1" height="46.75" fill="#7a1129"/>
<rect x="2034.9" y="533.75" width="54.1" height="46.75" fill="#efaf58"/>
<rect x="1494.2" y="674" width="54.1" height="46.75" fill="#f2c276"/>
<rect x="1548.3" y="674" width="54.1" height="46.75" fill="#fdefc6"/>
<rect x="1602.3" y="674" width="54.1" height="46.75" fill="#fbe4b3"/>
<rect x="1710.5" y="674" width="54.1" height="46.75" fill="#f6d39b"/>
<rect x="1764.6" y="674" width="54.1" height="46.75" fill="#861a2c"/>
<rect x="1818.6" y="674" width="54.1" height="46.75" fill="#fcebc0"/>
<rect x="1872.7" y="674" width="108.2" height="46.75" fill="#a71f22"/>
<rect x="2034.9" y="674" width="54.1" height="46.75" fill="#7a1129"/>
<rect x="1494.2" y="720.75" width="54.1" height="46.75" fill="#fbe4b4"/>
<rect x="1656.4" y="720.75" width="54.1" height="46.75" fill="#7a1129"/>
<rect x="1710.5" y="720.75" width="54.1" height="46.75" fill="#b02b20"/>
<rect x="1764.6" y="720.75" width="54.1" height="46.75" fill="#f1be72"/>
<rect x="1818.6" y="720.75" width="54.1" height="46.75" fill="#f8daa4"/>
<rect x="1494.2" y="767.5" width="108.2" height="46.75" fill="#fdedc4"/>
<rect x="1494.2" y="814.25" width="108.2" height="46.75" fill="#fdedc4"/>
<rect x="1818.6" y="814.25" width="54.1" height="46.75" fill="#7a1129"/>
<rect x="1872.7" y="814.25" width="108.2" height="46.75" fill="#fdedc4"/>
<rect x="1980.8" y="861" width="54.1" height="46.75" fill="#efb254"/>
</g>
<g font-size="24" text-anchor="end" dominant-baseline="central">
<text x="1480" y="317">Alveolar Epithelial Type 2</text><text x="1480" y="364">Bronchial Vessel</text><text x="1480" y="411">Basal</text><text x="1480" y="458">Smooth Muscle</text><text x="1480" y="504">Fibroblast</text><text x="1480" y="551">CD4 T</text><text x="1480" y="598">Capillary</text><text x="1480" y="644">Macrophage</text><text x="1480" y="691">Pericyte</text><text x="1480" y="738">Myofibroblast</text><text x="1480" y="785">Lipofibroblast</text><text x="1480" y="831">Mesothelial</text><text x="1480" y="878">Neuroendocrine</text>
</g>
<g font-size="28" font-weight="bold" text-anchor="middle">
<text transform="translate(1252,645) rotate(-90)">Prediction cell type from</text>
<text transform="translate(1282,645) rotate(-90)">Travaglini et al by Azimuth:</text>
</g>
<g font-size="21" font-weight="bold" text-anchor="middle" dominant-baseline="central" fill="#222">
<g transform="translate(0,320.4)"><text x="1521.2">0</text><text x="1575.3">0</text><text x="1629.4">1</text><text x="1683.5">0</text><text x="1737.5">0</text><text x="1791.6">0</text><text x="1845.7">0</text><text x="1899.7">0</text><text x="1953.8">0</text><text x="2007.9">0</text><text x="2061.9">0</text></g>
<g transform="translate(0,367.2)"><text x="1521.2">1</text><text x="1575.3">0</text><text x="1629.4">0</text><text x="1683.5">0</text><text x="1737.5">0</text><text x="1791.6">0</text><text x="1845.7">0</text><text x="1899.7">0</text><text x="1953.8">0</text><text x="2007.9">0</text><text x="2061.9">0</text></g>
<g transform="translate(0,413.9)"><text x="1521.2">4</text><text x="1575.3">0</text><text x="1629.4">1</text><text x="1683.5">0</text><text x="1737.5">0</text><text x="1791.6">0</text><text x="1845.7">0</text><text x="1899.7">0</text><text x="1953.8">0</text><text x="2007.9">1</text><text x="2061.9">0</text></g>
<g transform="translate(0,460.7)"><text x="1521.2">25</text><text x="1575.3">6</text><text x="1629.4">150</text><text x="1683.5">14</text><text x="1737.5">0</text><text x="1791.6">0</text><text x="1845.7">2</text><text x="1899.7">0</text><text x="1953.8">0</text><text x="2007.9">0</text><text x="2061.9">0</text></g>
<g transform="translate(0,507.4)"><text x="1521.2" fill="#fff">6635</text><text x="1575.3" fill="#fff">41</text><text x="1629.4" fill="#fff">6333</text><text x="1683.5">160</text><text x="1737.5">345</text><text x="1791.6">11</text><text x="1845.7">24</text><text x="1899.7">25</text><text x="1953.8">19</text><text x="2007.9">0</text><text x="2061.9">3</text></g>
<g transform="translate(0,554.2)"><text x="1521.2">232</text><text x="1575.3">0</text><text x="1629.4">52</text><text x="1683.5">11</text><text x="1737.5">15</text><text x="1791.6">40</text><text x="1845.7">6</text><text x="1899.7">0</text><text x="1953.8">38</text><text x="2007.9" fill="#fff">7</text><text x="2061.9">30</text></g>
<g transform="translate(0,600.9)"><text x="1521.2">0</text><text x="1575.3">0</text><text x="1629.4">1</text><text x="1683.5">0</text><text x="1737.5">0</text><text x="1791.6">0</text><text x="1845.7">0</text><text x="1899.7">0</text><text x="1953.8">0</text><text x="2007.9">0</text><text x="2061.9">0</text></g>
<g transform="translate(0,647.7)"><text x="1521.2">7</text><text x="1575.3">0</text><text x="1629.4">0</text><text x="1683.5">0</text><text x="1737.5">0</text><text x="1791.6">0</text><text x="1845.7">3</text><text x="1899.7">0</text><text x="1953.8">0</text><text x="2007.9">0</text><text x="2061.9">0</text></g>
<g transform="translate(0,694.4)"><text x="1521.2">1644</text><text x="1575.3">3</text><text x="1629.4">488</text><text x="1683.5">67</text><text x="1737.5">196</text><text x="1791.6" fill="#fff">288</text><text x="1845.7">7</text><text x="1899.7" fill="#fff">41</text><text x="1953.8" fill="#fff">89</text><text x="2007.9">0</text><text x="2061.9" fill="#fff">76</text></g>
<g transform="translate(0,741.2)"><text x="1521.2">539</text><text x="1575.3">1</text><text x="1629.4">379</text><text x="1683.5" fill="#fff">590</text><text x="1737.5" fill="#fff">511</text><text x="1791.6">68</text><text x="1845.7">15</text><text x="1899.7">3</text><text x="1953.8">4</text><text x="2007.9">0</text><text x="2061.9">0</text></g>
<g transform="translate(0,787.9)"><text x="1521.2">258</text><text x="1575.3">4</text><text x="1629.4">4</text><text x="1683.5">20</text><text x="1737.5">10</text><text x="1791.6">0</text><text x="1845.7">0</text><text x="1899.7">0</text><text x="1953.8">0</text><text x="2007.9">0</text><text x="2061.9">0</text></g>
<g transform="translate(0,834.7)"><text x="1521.2">825</text><text x="1575.3">4</text><text x="1629.4">11</text><text x="1683.5">8</text><text x="1737.5">6</text><text x="1791.6">4</text><text x="1845.7" fill="#fff">83</text><text x="1899.7">5</text><text x="1953.8">15</text><text x="2007.9">0</text><text x="2061.9">0</text></g>
<g transform="translate(0,881.4)"><text x="1521.2">0</text><text x="1575.3">0</text><text x="1629.4">0</text><text x="1683.5">0</text><text x="1737.5">0</text><text x="1791.6">0</text><text x="1845.7">0</text><text x="1899.7">0</text><text x="1953.8">0</text><text x="2007.9">3</text><text x="2061.9">3</text></g>
</g>

<!-- ============ PANEL D ============ -->
<text x="341" y="500" font-size="30" font-weight="bold">d</text>
<text x="533" y="505" font-size="27" textLength="455" lengthAdjust="spacingAndGlyphs"><tspan font-weight="bold">Azimuth mapping QC:</tspan> confidence</text>
<text x="555" y="540" font-size="27" textLength="411" lengthAdjust="spacingAndGlyphs">associated with each annotation</text>
<g font-size="29" text-anchor="middle">
<text transform="translate(355,635) rotate(-90)">Predicted</text>
<text transform="translate(383,635) rotate(-90)">annotation score</text>
</g>
<g font-size="29" text-anchor="end" dominant-baseline="central"><text x="429" y="600">1</text><text x="429" y="670">0.5</text><text x="429" y="740">0</text></g>
<path d="M436,577 L436,743 L1079,743" fill="none" stroke="#888" stroke-width="1.5"/>
<g stroke="#333" stroke-width="0.8">
<line x1="471" y1="583" x2="471" y2="730"/><line x1="528.6" y1="584" x2="528.6" y2="734"/><line x1="586" y1="590" x2="586" y2="727"/><line x1="643.8" y1="593" x2="643.8" y2="730"/><line x1="700.8" y1="603" x2="700.8" y2="720"/><line x1="757.9" y1="601" x2="757.9" y2="725"/><line x1="815.5" y1="596" x2="815.5" y2="736"/><line x1="873" y1="590" x2="873" y2="733"/><line x1="930.6" y1="601" x2="930.6" y2="730"/><line x1="988.3" y1="661" x2="988.3" y2="736"/><line x1="1045.8" y1="602" x2="1045.8" y2="731"/>
</g>
<g stroke-width="0.7">
<polygon fill="#3a9a93" stroke="#2a5a58" points="471,598 473,603 477,608 486,613 496,618 488,622 479,626 477,632 477,700 475,712 473,722 471,730 469,722 467,712 465,700 465,632 463,626 454,622 446,618 456,613 465,608 469,603"/>
<polygon fill="url(#pK)" points="477,624 477,700 475,712 473,722 469,722 467,712 465,700 465,624"/>
<rect x="466" y="616" width="10" height="4" fill="#111"/>
<polygon fill="#d42a2a" stroke="#7a1515" points="528.6,600 529.6,615 531.1,630 533.6,648 535.1,665 536.1,685 534.6,700 531.6,715 529.6,725 528.6,729 527.6,725 525.6,715 522.6,700 521.1,685 522.1,665 523.6,648 526.1,630 527.6,615"/>
<polygon fill="#7ca3cb" stroke="#3f5f80" points="586,603 588,607 593,611 603,615 613,618 604,622 594,626 592,632 592,700 590,712 588,722 586,727 584,722 582,712 580,700 580,632 578,626 568,622 559,618 569,615 579,611 584,607"/>
<polygon fill="url(#pK)" points="592,624 592,700 590,712 588,720 584,720 582,712 580,700 580,624"/>
<rect x="581" y="616" width="10" height="4" fill="#111"/>
<polygon fill="#f7d8ae" stroke="#b08050" points="643.8,600 645.8,605 649.8,612 652.3,625 651.3,645 648.8,670 646.8,690 645.3,700 643.8,708 642.3,700 640.8,690 638.8,670 636.3,645 635.3,625 637.8,612 641.8,605"/>
<polygon fill="#e2a56e" stroke="#8a5a30" points="700.8,606 703.8,612 707.3,622 708.3,645 705.8,670 703.3,690 700.8,703 698.3,690 695.8,670 693.3,645 694.3,622 697.8,612"/>
<polygon fill="#c45cc8" stroke="#6a2a70" points="757.9,612 759.9,625 761.9,640 765.4,660 765.4,675 761.9,690 759.9,700 757.9,708 755.9,700 753.9,690 750.4,675 750.4,660 753.9,640 755.9,625"/>
<polygon fill="#f5993d" stroke="#8a5010" points="815.5,602 817.5,615 821,632 824.5,650 823.5,665 819.5,680 817.5,698 815.5,712 813.5,698 811.5,680 807.5,665 806.5,650 810,632 813.5,615"/>
<polygon fill="#7a3a2c" stroke="#3a1a10" points="873,596 875,610 877.5,630 880,652 879.5,672 877,695 874.5,715 873,726 871.5,715 869,695 866.5,672 866,652 868.5,630 871,610"/>
<polygon fill="#f27e74" stroke="#8a3a30" points="930.6,625 933.1,645 936.1,665 940.6,683 938.6,695 933.6,710 930.6,720 927.6,710 922.6,695 920.6,683 925.1,665 928.1,645"/>
<polygon fill="#7d7c12" stroke="#3a3a08" points="988.3,665 991.3,675 995.8,688 998.3,700 996.3,712 991.3,724 988.3,731 985.3,724 980.3,712 978.3,700 980.8,688 985.3,675"/>
<polygon fill="#caca36" stroke="#6a6a10" points="1045.8,620 1048.3,640 1051.3,660 1055.3,680 1054.8,692 1051.8,702 1047.8,713 1045.8,720 1043.8,713 1039.8,702 1036.8,692 1036.3,680 1040.3,660 1043.3,640"/>
</g>
<g fill="#111"><circle cx="471" cy="644" r="1.6"/><circle cx="528.6" cy="667" r="1.8"/><circle cx="586" cy="632" r="1.6"/><circle cx="643.8" cy="647" r="1.8"/><circle cx="700.8" cy="652" r="1.8"/><circle cx="757.9" cy="665" r="1.8"/><circle cx="815.5" cy="660" r="1.8"/><circle cx="873" cy="655" r="1.8"/><circle cx="930.6" cy="679" r="1.8"/><circle cx="988.3" cy="700" r="1.8"/><circle cx="1045.8" cy="682" r="1.8"/></g>
<g font-size="24.5" text-anchor="end" dominant-baseline="central">
<text transform="translate(471,748) rotate(-90)">Fibro-adventitial</text>
<text transform="translate(528.6,748) rotate(-90)">IR-fibro</text>
<text transform="translate(586,748) rotate(-90)">Fibro-alveolar</text>
<text transform="translate(643.8,748) rotate(-90)">Myofibroblast</text>
<text transform="translate(700.8,748) rotate(-90)">PC fibro</text>
<text transform="translate(757.9,748) rotate(-90)">PB fibro</text>
<text transform="translate(815.5,748) rotate(-90)">Mesothelial</text>
<text transform="translate(873,748) rotate(-90)">Endoneurial NAF</text>
<text transform="translate(930.6,748) rotate(-90)">Perineurial NAF</text>
<text transform="translate(988.3,748) rotate(-90)">mSchwann</text>
<text transform="translate(1045.8,748) rotate(-90)">nmSchwann</text>
</g>

<!-- ============ PANEL E ============ -->
<text x="366" y="1030" font-size="32" font-weight="bold">e</text>
<text x="724" y="970" font-size="27" textLength="1026" lengthAdjust="spacingAndGlyphs">Celltypist prediction of labels with single cell model available at lungcellatlas.org</text>
<g fill="#cfb48e">
<rect x="606" y="1662.9" width="1037" height="20"/>
<rect x="593" y="1744.1" width="1050" height="20"/>
<rect x="666" y="2028" width="977" height="20"/>
<rect x="588" y="2048.5" width="1055" height="20"/>
<rect x="644" y="2088.8" width="999" height="20"/>
<rect x="555" y="2129.4" width="1088" height="20"/>
</g>
<g font-size="20.5" text-anchor="end" dominant-baseline="central" fill="#111">
<text x="791" y="1003.7">AT1</text><text x="791" y="1024">AT2</text><text x="791" y="1044.3">B_memory</text><text x="791" y="1064.5">B_naive</text><text x="791" y="1084.8">B_plasma_IgA</text><text x="791" y="1105.1">B_plasma_IgG</text><text x="791" y="1125.4">B_plasmablast</text><text x="791" y="1145.7">Basal</text><text x="791" y="1165.9">CD4_EM/Effector</text><text x="791" y="1186.2">CD4_TRM</text><text x="791" y="1206.5">CD4_naive/CM</text><text x="791" y="1226.8">CD8_EM</text><text x="791" y="1247.1">CD8_EM/EMRA</text><text x="791" y="1267.3">CD8_TRM</text><text x="791" y="1287.6">CD8_TRM/EM</text><text x="791" y="1307.9">Ciliated</text><text x="791" y="1328.2">DC_1</text><text x="791" y="1348.5">DC_2</text><text x="791" y="1368.7">DC_activated</text><text x="791" y="1389">DC_plasmacytoid</text><text x="791" y="1409.3">Deuterosomal</text><text x="791" y="1429.6">Dividing_Basal</text><text x="791" y="1449.9">Endothelia_Lymphatic</text><text x="791" y="1470.1">EV_Cap_a</text><text x="791" y="1490.4">EV_Cap_g</text><text x="791" y="1510.7">EV_arterial_pulm</text><text x="791" y="1531">EV_arterial_syst</text><text x="791" y="1551.3">EV_venous_pulm</text><text x="791" y="1571.5">EV_venous_syst</text><text x="791" y="1591.8">Erythrocyte</text><text x="791" y="1612.1">Fibro_adventitial</text><text x="791" y="1632.4">Fibro_alveolar</text><text x="791" y="1652.7">Fibro_myofibroblast</text><text x="791" y="1672.9">Fibro_peribronchial</text><text x="791" y="1693.2">ILC</text><text x="791" y="1713.5">Ionocyte_n_Brush</text><text x="791" y="1733.8">MAIT</text><text x="791" y="1754.1">Macro_AW_CX3CR1</text><text x="791" y="1774.3">Macro_CCL</text><text x="791" y="1794.6">Macro_CHIT1</text><text x="791" y="1814.9">Macro_alveolar</text><text x="791" y="1835.2">Macro_alveolar_MT</text><text x="791" y="1855.5">Macro_dividing</text><text x="791" y="1875.7">Macro_interstitial</text><text x="791" y="1896">Macro_intravascular</text><text x="791" y="1916.3">Macro_intermediate</text><text x="791" y="1936.6">Mast_cell</text><text x="791" y="1956.9">Megakaryocyte</text><text x="791" y="1977.1">Mesothelia</text><text x="791" y="1997.4">Monocyte_CD14</text><text x="791" y="2017.7">Monocyte_CD16</text><text x="791" y="2038">Muscle_ASM</text><text x="791" y="2058.3">Muscle_pericyte_syst</text><text x="791" y="2078.5">Muscle_pericyte_pulm</text><text x="791" y="2098.8">Muscle_IR_peri</text><text x="791" y="2119.1">Muscle_smooth_pulm</text><text x="791" y="2139.4">Muscle_smooth_syst_art</text><text x="791" y="2159.7">NAF_perineurial</text><text x="791" y="2179.9">NKT</text><text x="791" y="2200.2">NK_CD11d</text><text x="791" y="2220.5">NK_CD16hi</text><text x="791" y="2240.8">NK_CD56bright</text><text x="791" y="2261.1">Neuroendocrine</text><text x="791" y="2281.3">SMG_Basal</text><text x="791" y="2301.6">SMG_Duct</text><text x="791" y="2321.9">SMG_Serous</text><text x="791" y="2342.2">Schwann_nonmyelinating</text><text x="791" y="2362.5">Secretory_Club</text><text x="791" y="2382.7">Secretory_Goblet</text><text x="791" y="2403">Suprabasal</text><text x="791" y="2423.3">T_reg</text><text x="791" y="2443.6">gdT</text>
</g>
<line x1="798" y1="1002.95" x2="798" y2="2446" stroke="#111" stroke-width="5" stroke-dasharray="1.5 18.78"/>
<line x1="811.25" y1="2467.5" x2="1637" y2="2467.5" stroke="#111" stroke-width="5" stroke-dasharray="1.5 13.2"/>
<!-- faint tiny dots -->
<g class="t">
<circle cx="870.8" cy="1003.7" r="1.1"/><circle cx="900.2" cy="1003.7" r="1"/><circle cx="914.9" cy="1003.7" r="1"/><circle cx="1194.2" cy="1003.7" r="1"/><circle cx="1208.9" cy="1003.7" r="1"/><circle cx="1414.7" cy="1003.7" r="1.3" fill="#333"/><circle cx="1620.5" cy="1003.7" r="1"/>
<circle cx="870.8" cy="1024" r="1"/><circle cx="900.2" cy="1024" r="1"/><circle cx="1253" cy="1024" r="1"/><circle cx="1620.5" cy="1024" r="1.2" fill="#333"/>
<circle cx="870.8" cy="1044.3" r="1"/><circle cx="929.6" cy="1044.3" r="1"/><circle cx="1326.5" cy="1044.3" r="1"/>
<circle cx="885.5" cy="1105.1" r="1.2" fill="#333"/><circle cx="885.5" cy="1125.4" r="1"/><circle cx="1061.9" cy="1125.4" r="1"/>
<circle cx="944.3" cy="1165.9" r="1.2" fill="#333"/><circle cx="959" cy="1165.9" r="1.2" fill="#333"/><circle cx="1032.5" cy="1165.9" r="1"/><circle cx="1532.3" cy="1165.9" r="1.2" fill="#333"/><circle cx="1605.8" cy="1165.9" r="1.2" fill="#333"/>
<circle cx="944.3" cy="1186.2" r="1.2" fill="#333"/><circle cx="959" cy="1186.2" r="1.2" fill="#333"/><circle cx="1532.3" cy="1186.2" r="1"/><circle cx="959" cy="1206.5" r="1.2"/><circle cx="1620.5" cy="1206.5" r="1.2" fill="#333"/>
<circle cx="914.9" cy="1226.8" r="1.2" fill="#333"/><circle cx="959" cy="1226.8" r="1.2" fill="#333"/><circle cx="1032.5" cy="1226.8" r="1"/><circle cx="1620.5" cy="1226.8" r="1.2" fill="#333"/><circle cx="1635.2" cy="1226.8" r="1.2" fill="#333"/>
<circle cx="914.9" cy="1247.1" r="1"/><circle cx="1532.3" cy="1247.1" r="1.2" fill="#333"/><circle cx="1517.6" cy="1247.1" r="1"/>
<circle cx="900.2" cy="1287.6" r="1"/><circle cx="914.9" cy="1287.6" r="1.2" fill="#333"/><circle cx="944.3" cy="1287.6" r="1.2" fill="#333"/><circle cx="1532.3" cy="1287.6" r="1"/>
<circle cx="1061.9" cy="1328.2" r="1.2" fill="#333"/><circle cx="1282.4" cy="1348.5" r="1.2" fill="#333"/><circle cx="1311.8" cy="1348.5" r="1"/><circle cx="1370.6" cy="1348.5" r="1"/><circle cx="1414.7" cy="1348.5" r="1"/>
<circle cx="988.4" cy="1409.3" r="1.2" fill="#333"/><circle cx="929.6" cy="1429.6" r="1.2" fill="#333"/><circle cx="1150.1" cy="1470.1" r="1.2" fill="#333"/><circle cx="1179.5" cy="1490.4" r="1"/><circle cx="1164.8" cy="1531" r="1"/><circle cx="1179.5" cy="1571.5" r="1.2" fill="#333"/>
<circle cx="1238.3" cy="1612.1" r="1.2" fill="#333"/><circle cx="1253" cy="1612.1" r="1.2" fill="#333"/><circle cx="1253" cy="1632.4" r="1.2" fill="#333"/><circle cx="1414.7" cy="1632.4" r="1"/>
<circle cx="1223.6" cy="1672.9" r="1.2" fill="#555"/><circle cx="1238.3" cy="1672.9" r="1"/><circle cx="1635.2" cy="1693.2" r="1.2" fill="#333"/><circle cx="1532.3" cy="1693.2" r="1"/>
<circle cx="1414.7" cy="1794.6" r="1"/><circle cx="1414.7" cy="1875.7" r="1.2" fill="#333"/><circle cx="1443.6" cy="1875.7" r="1.2" fill="#333"/><circle cx="1017.8" cy="1875.7" r="1.2" fill="#333"/><circle cx="1414.7" cy="1896" r="1.2" fill="#333"/><circle cx="1017.8" cy="1896" r="1.2" fill="#333"/>
<circle cx="1032.5" cy="2017.7" r="1.2" fill="#333"/><circle cx="1414.7" cy="2017.7" r="1"/><circle cx="1473.5" cy="2038" r="1.2" fill="#555"/><circle cx="1488.2" cy="2038" r="1.2" fill="#555"/>
<circle cx="1473.5" cy="2119.1" r="1.2" fill="#333"/><circle cx="1240" cy="2119.1" r="1.3" fill="#333"/><circle cx="1473.5" cy="2139.4" r="1.3" fill="#555"/>
<circle cx="944.3" cy="2220.5" r="1.2" fill="#333"/><circle cx="1061.9" cy="2220.5" r="1.2" fill="#333"/><circle cx="1414.7" cy="2200.2" r="1.2" fill="#333"/><circle cx="1414.7" cy="2240.8" r="1.2" fill="#333"/>
<circle cx="885.5" cy="2362.5" r="1.3" fill="#333"/><circle cx="1414.7" cy="2362.5" r="1.2" fill="#333"/><circle cx="1061.9" cy="2382.7" r="1.2" fill="#333"/><circle cx="1414.7" cy="2382.7" r="1.2" fill="#333"/><circle cx="1061.9" cy="2403" r="1.2" fill="#333"/><circle cx="1414.7" cy="2403" r="1.2" fill="#333"/>
<circle cx="914.9" cy="2423.3" r="1"/><circle cx="944.3" cy="2443.6" r="1.2" fill="#333"/>
</g>
<g class="ed">
<circle cx="812" cy="1003.7" r="9.8" fill="#6e0016"/>
<circle cx="1591.1" cy="1003.7" r="3" fill="#f3e0da"/>
<circle cx="826.7" cy="1024" r="9.3" fill="#700018"/><circle cx="841.4" cy="1024" r="9.3" fill="#7a0a1a"/><circle cx="1591.1" cy="1024" r="3" fill="#f0c8b8"/>
<circle cx="856.1" cy="1044.3" r="6" fill="#c0161f"/>
<circle cx="856.1" cy="1064.5" r="5.6" fill="#d8503f"/>
<circle cx="870.8" cy="1084.8" r="10" fill="#dce9f5"/>
<circle cx="885.5" cy="1145.7" r="9" fill="#c8202a"/><circle cx="900.2" cy="1145.7" r="6" fill="#fbe3db"/><circle cx="1061.9" cy="1145.7" r="3.5" fill="#f0a080"/>
<circle cx="914.9" cy="1165.9" r="6" fill="#f6c3a5"/><circle cx="1620.5" cy="1165.9" r="2.3" fill="#f7ece8"/>
<circle cx="914.9" cy="1186.2" r="2.5" fill="#f3c5aa"/>
<circle cx="914.9" cy="1206.5" r="4" fill="#d06050"/><circle cx="929.6" cy="1206.5" r="10" fill="#8b0a1a"/><circle cx="959" cy="1206.5" r="2.3" fill="#f7ece8"/><circle cx="1532.3" cy="1206.5" r="2.8" fill="#f3e6e0"/>
<circle cx="944.3" cy="1247.1" r="6.5" fill="#e58063"/><circle cx="959" cy="1247.1" r="4" fill="#f7c4aa"/><circle cx="1635.2" cy="1247.1" r="3.5" fill="#f0b090"/>
<circle cx="959" cy="1287.6" r="3.5" fill="#d9704f"/>
<circle cx="973.7" cy="1307.9" r="9.6" fill="#6e0018"/><circle cx="988.4" cy="1307.9" r="9.6" fill="#750018"/><circle cx="1414.7" cy="1307.9" r="2.5" fill="#6e0018"/>
<circle cx="1003.1" cy="1328.2" r="5" fill="#7a0a1a"/>
<circle cx="1003.1" cy="1348.5" r="4" fill="#c83030"/><circle cx="1017.8" cy="1348.5" r="9" fill="#c81a25"/><circle cx="1032.5" cy="1348.5" r="4" fill="#f8c0a0"/>
<circle cx="1003.1" cy="1368.7" r="5" fill="#b01828"/>
<circle cx="1047.2" cy="1389" r="10" fill="#6a0016"/><circle cx="1311.8" cy="1389" r="3" fill="#eeeeee"/>
<circle cx="1061.9" cy="1429.6" r="7" fill="#e06a50"/>
<circle cx="1076.6" cy="1449.9" r="10" fill="#6e0018"/>
<circle cx="1091.3" cy="1470.1" r="9" fill="#7a0a1a"/><circle cx="1106" cy="1470.1" r="6" fill="#e05540"/><circle cx="1135.4" cy="1470.1" r="3.5" fill="#d05040"/>
<circle cx="1106" cy="1490.4" r="5" fill="#e88060"/><circle cx="1120.7" cy="1490.4" r="9.5" fill="#7a0a1a"/><circle cx="1135.4" cy="1490.4" r="7" fill="#c83040"/><circle cx="1150.1" cy="1490.4" r="6" fill="#e06050"/><circle cx="1164.8" cy="1490.4" r="3" fill="#d05050"/><circle cx="1179.5" cy="1490.4" r="2" fill="#c05050"/><circle cx="1194.2" cy="1490.4" r="4" fill="#e07050"/>
<circle cx="1150.1" cy="1510.7" r="3" fill="#f0a080"/><circle cx="1164.8" cy="1510.7" r="8.5" fill="#c01828"/>
<circle cx="1179.5" cy="1551.3" r="8.5" fill="#8b0a1a"/><circle cx="1194.2" cy="1551.3" r="2.5" fill="#d05050"/>
<circle cx="1150.1" cy="1571.5" r="3.5" fill="#f5b090"/><circle cx="1194.2" cy="1571.5" r="7" fill="#d83a30"/>
<circle cx="1208.9" cy="1612.1" r="9" fill="#7a0a1a"/><circle cx="1223.6" cy="1612.1" r="7" fill="#a01020"/>
<circle cx="1223.6" cy="1632.4" r="4" fill="#c01828"/><circle cx="1238.3" cy="1632.4" r="9" fill="#8b0a1a"/>
<circle cx="1253" cy="1652.7" r="8.5" fill="#c01828"/><circle cx="1502.9" cy="1652.7" r="5" fill="#f5c0a0"/>
<circle cx="1267.7" cy="1713.5" r="10" fill="#9a0e22"/>
<circle cx="959" cy="1733.8" r="3" fill="#f0a080"/>
<circle cx="1297.1" cy="1774.3" r="2" fill="#704040"/><circle cx="1311.8" cy="1774.3" r="3" fill="#f5d0c0"/><circle cx="1400" cy="1774.3" r="3" fill="#fafafa"/>
<circle cx="1282.4" cy="1794.6" r="5" fill="#f0a080"/>
<circle cx="1282.4" cy="1814.9" r="3.5" fill="#f8c8b0"/><circle cx="1297.1" cy="1814.9" r="9" fill="#b0101e"/><circle cx="1311.8" cy="1814.9" r="3.5" fill="#f5b090"/>
<circle cx="1297.1" cy="1835.2" r="2" fill="#6e0018"/><circle cx="1311.8" cy="1835.2" r="2" fill="#a06050"/><circle cx="1547" cy="1835.2" r="2.5" fill="#3a0010"/>
<circle cx="1311.8" cy="1855.5" r="5" fill="#fbeae4"/>
<circle cx="1032.5" cy="1875.7" r="2" fill="#e09070"/><circle cx="1400" cy="1875.7" r="2.5" fill="#e09070"/>
<circle cx="1032.5" cy="1896" r="3" fill="#e09070"/><circle cx="1282.4" cy="1896" r="4" fill="#fad0b8"/><circle cx="1326.5" cy="1896" r="10" fill="#8b0a1a"/>
<circle cx="1032.5" cy="1916.3" r="4.5" fill="#f5b090"/><circle cx="1400" cy="1916.3" r="2.5" fill="#f0c0a0"/>
<circle cx="1341.2" cy="1936.6" r="10" fill="#6e0018"/><circle cx="1355.9" cy="1936.6" r="10" fill="#700018"/>
<circle cx="1370.6" cy="1977.1" r="10" fill="#8b0a1a"/>
<circle cx="1032.5" cy="1997.4" r="3" fill="#f8f0ec"/><circle cx="1385.3" cy="1997.4" r="9" fill="#c82a30"/><circle cx="1400" cy="1997.4" r="7" fill="#f5a080"/><circle cx="1414.7" cy="1997.4" r="4" fill="#c82028"/><circle cx="1444.1" cy="1997.4" r="2" fill="#d06050"/>
<circle cx="1385.3" cy="2017.7" r="3.5" fill="#e07060"/><circle cx="1429.4" cy="2017.7" r="10" fill="#6e0018"/><circle cx="1444.1" cy="2017.7" r="9" fill="#a0101e"/>
<circle cx="1473.5" cy="2058.3" r="2" fill="#4a2a20"/>
<circle cx="1458.8" cy="2078.5" r="10" fill="#6e0018"/><circle cx="1473.5" cy="2078.5" r="2.5" fill="#e8d0c8"/>
<circle cx="1473.5" cy="2119.1" r="10" fill="#8b0a1a"/><circle cx="1488.2" cy="2119.1" r="9" fill="#c82a30"/><circle cx="1502.9" cy="2119.1" r="6.5" fill="#f5a585"/>
<circle cx="944.3" cy="2179.9" r="2.5" fill="#f7ece8"/><circle cx="959" cy="2179.9" r="2.5" fill="#f7ece8"/><circle cx="1635.2" cy="2179.9" r="1.5" fill="#222"/>
<circle cx="1517.6" cy="2220.5" r="9.5" fill="#b8141f"/><circle cx="1532.3" cy="2220.5" r="7" fill="#b8141f"/>
<circle cx="1547" cy="2261.1" r="9.5" fill="#6e0018"/>
<circle cx="1561.7" cy="2321.9" r="10" fill="#6a0016"/>
<circle cx="1547" cy="2342.2" r="2.5" fill="#3a0010"/>
<circle cx="1576.4" cy="2362.5" r="8.5" fill="#d03a35"/><circle cx="1591.1" cy="2362.5" r="7.5" fill="#c83030"/><circle cx="1620.5" cy="2362.5" r="2.5" fill="#c05040"/>
<circle cx="1576.4" cy="2382.7" r="3.5" fill="#e06050"/><circle cx="1605.8" cy="2382.7" r="10" fill="#8b0a1a"/><circle cx="1620.5" cy="2382.7" r="4.5" fill="#f8d0b8"/>
<circle cx="900.2" cy="2403" r="6" fill="#f8d0b8"/><circle cx="1620.5" cy="2403" r="5" fill="#fbe0d5"/>
<circle cx="1532.3" cy="2423.3" r="2.5" fill="#b09080"/>
<circle cx="1635.2" cy="2443.6" r="8" fill="#b0101e"/>
</g>
<rect x="800" y="983.5" width="846" height="1481" fill="none" stroke="#000" stroke-width="2.6"/>
<g font-size="17.5" text-anchor="end" dominant-baseline="central" fill="#111">
<text transform="translate(812,2473) rotate(-90)">AT1</text>
<text transform="translate(826.7,2473) rotate(-90)">Signaling AT2</text>
<text transform="translate(841.4,2473) rotate(-90)">AT2</text>
<text transform="translate(856.1,2473) rotate(-90)">B</text>
<text transform="translate(870.8,2473) rotate(-90)">Plasma</text>
<text transform="translate(885.5,2473) rotate(-90)">Basal</text>
<text transform="translate(900.2,2473) rotate(-90)">Proximal Basal</text>
<text transform="translate(914.9,2473) rotate(-90)">CD4+ Mem/Eff T</text>
<text transform="translate(929.6,2473) rotate(-90)">CD4+ Naive T</text>
<text transform="translate(944.3,2473) rotate(-90)">CD8+ Naive T</text>
<text transform="translate(959,2473) rotate(-90)">CD8+ Mem/Eff T</text>
<text transform="translate(973.7,2473) rotate(-90)">Ciliated</text>
<text transform="translate(988.4,2473) rotate(-90)">Proximal Ciliated</text>
<text transform="translate(1003.1,2473) rotate(-90)">Myeloid DC type 1</text>
<text transform="translate(1017.8,2473) rotate(-90)">Myeloid DC type 2</text>
<text transform="translate(1032.5,2473) rotate(-90)">EREG+ DC</text>
<text transform="translate(1047.2,2473) rotate(-90)">Plasmacytoid DC</text>
<text transform="translate(1061.9,2473) rotate(-90)">Proliferating Basal</text>
<text transform="translate(1076.6,2473) rotate(-90)">Lymphatic</text>
<text transform="translate(1091.3,2473) rotate(-90)">Capillary Aerocyte</text>
<text transform="translate(1106,2473) rotate(-90)">Capillary Int 1</text>
<text transform="translate(1120.7,2473) rotate(-90)">Capillary</text>
<text transform="translate(1135.4,2473) rotate(-90)">Capillary Int 2</text>
<text transform="translate(1150.1,2473) rotate(-90)">Bronchial Vessel 2</text>
<text transform="translate(1164.8,2473) rotate(-90)">Artery</text>
<text transform="translate(1179.5,2473) rotate(-90)">Vein</text>
<text transform="translate(1194.2,2473) rotate(-90)">Bronchial Vessel 1</text>
<text transform="translate(1208.9,2473) rotate(-90)">Lipofibroblast</text>
<text transform="translate(1223.6,2473) rotate(-90)">Adventitial Fibro</text>
<text transform="translate(1238.3,2473) rotate(-90)">Alveolar Fibro</text>
<text transform="translate(1253,2473) rotate(-90)">Myofibroblast</text>
<text transform="translate(1267.7,2473) rotate(-90)">Ionocyte</text>
<text transform="translate(1282.4,2473) rotate(-90)">TREM2+ DC</text>
<text transform="translate(1297.1,2473) rotate(-90)">Macrophage</text>
<text transform="translate(1311.8,2473) rotate(-90)">Proliferating Macro</text>
<text transform="translate(1326.5,2473) rotate(-90)">IGSF21+ DC</text>
<text transform="translate(1341.2,2473) rotate(-90)">Basophil/Mast 1</text>
<text transform="translate(1355.9,2473) rotate(-90)">Basophil/Mast 2</text>
<text transform="translate(1370.6,2473) rotate(-90)">Mesothelial</text>
<text transform="translate(1385.3,2473) rotate(-90)">Classical Mono</text>
<text transform="translate(1400,2473) rotate(-90)">OLR1+ Mono</text>
<text transform="translate(1414.7,2473) rotate(-90)">Platelet/MK</text>
<text transform="translate(1429.4,2473) rotate(-90)">Nonclassical Mono</text>
<text transform="translate(1444.1,2473) rotate(-90)">Intermediate Mono</text>
<text transform="translate(1458.8,2473) rotate(-90)">Pericyte</text>
<text transform="translate(1473.5,2473) rotate(-90)">Airway SM</text>
<text transform="translate(1488.2,2473) rotate(-90)">Vascular SM</text>
<text transform="translate(1502.9,2473) rotate(-90)">Fibromyocyte</text>
<text transform="translate(1517.6,2473) rotate(-90)">Natural Killer</text>
<text transform="translate(1532.3,2473) rotate(-90)">Proliferating NK/T</text>
<text transform="translate(1547,2473) rotate(-90)">Neuroendocrine</text>
<text transform="translate(1561.7,2473) rotate(-90)">Serous</text>
<text transform="translate(1576.4,2473) rotate(-90)">Mucous</text>
<text transform="translate(1591.1,2473) rotate(-90)">Club</text>
<text transform="translate(1605.8,2473) rotate(-90)">Goblet</text>
<text transform="translate(1620.5,2473) rotate(-90)">Differentiating Basal</text>
<text transform="translate(1635.2,2473) rotate(-90)">Natural Killer T</text>
</g>
<text transform="translate(478,1695) rotate(-90)" text-anchor="middle" font-size="28">Predicted label of the current study cell types</text>
<g font-size="28"><text x="483" y="2522">Cell type label from</text><text x="483" y="2559">Travaglini et al.</text></g>
<!-- legends e -->
<rect x="1667" y="1004" width="251" height="26" fill="#cfb48e"/>
<text x="1671" y="1024" font-size="20">Airway-enriched cell type</text>
<g font-size="25"><text x="1671" y="1092">Cell types from the</text><text x="1671" y="1112">current study not</text><text x="1671" y="1133">predicted in any cells</text><text x="1671" y="1153">from Travaglini et al.</text></g>
<g font-size="20.5" dominant-baseline="central"><text x="1675" y="1180">Chondrocyte</text><text x="1675" y="1200">NAF_epineurial</text><text x="1675" y="1220.6">Dividing_AT2</text><text x="1675" y="1241">Fibro_immune_recruiting</text><text x="1675" y="1261.4">SMG_mucous</text><text x="1675" y="1281.8">Schwann_Myelinating</text></g>
<text x="1683" y="2282" font-size="20">Fraction of cells (%)</text>
<g fill="#8c8c8c" stroke="#333" stroke-width="0.8"><circle cx="1712.5" cy="2305.5" r="3.5"/><circle cx="1736" cy="2305.5" r="5.5"/><circle cx="1759.7" cy="2305.5" r="7"/><circle cx="1784.4" cy="2305.5" r="9"/><circle cx="1808" cy="2305.5" r="11"/></g>
<g font-size="18" dominant-baseline="central"><text transform="translate(1712.5,2321) rotate(90)">20</text><text transform="translate(1736,2321) rotate(90)">40</text><text transform="translate(1759.7,2321) rotate(90)">60</text><text transform="translate(1784.4,2321) rotate(90)">80</text><text transform="translate(1808,2321) rotate(90)">100</text></g>
<text x="1693" y="2397" font-size="20">Mean probability</text>
<rect x="1709" y="2403" width="121" height="21" fill="url(#gB)" stroke="#000" stroke-width="0.8"/>
<line x1="1769.5" y1="2424" x2="1769.5" y2="2428" stroke="#000" stroke-width="0.8"/>
<g font-size="15" text-anchor="middle"><text x="1709" y="2444">0.0</text><text x="1769.5" y="2444">0.5</text><text x="1830" y="2444">1.0</text></g>
</svg>
</body></html>
